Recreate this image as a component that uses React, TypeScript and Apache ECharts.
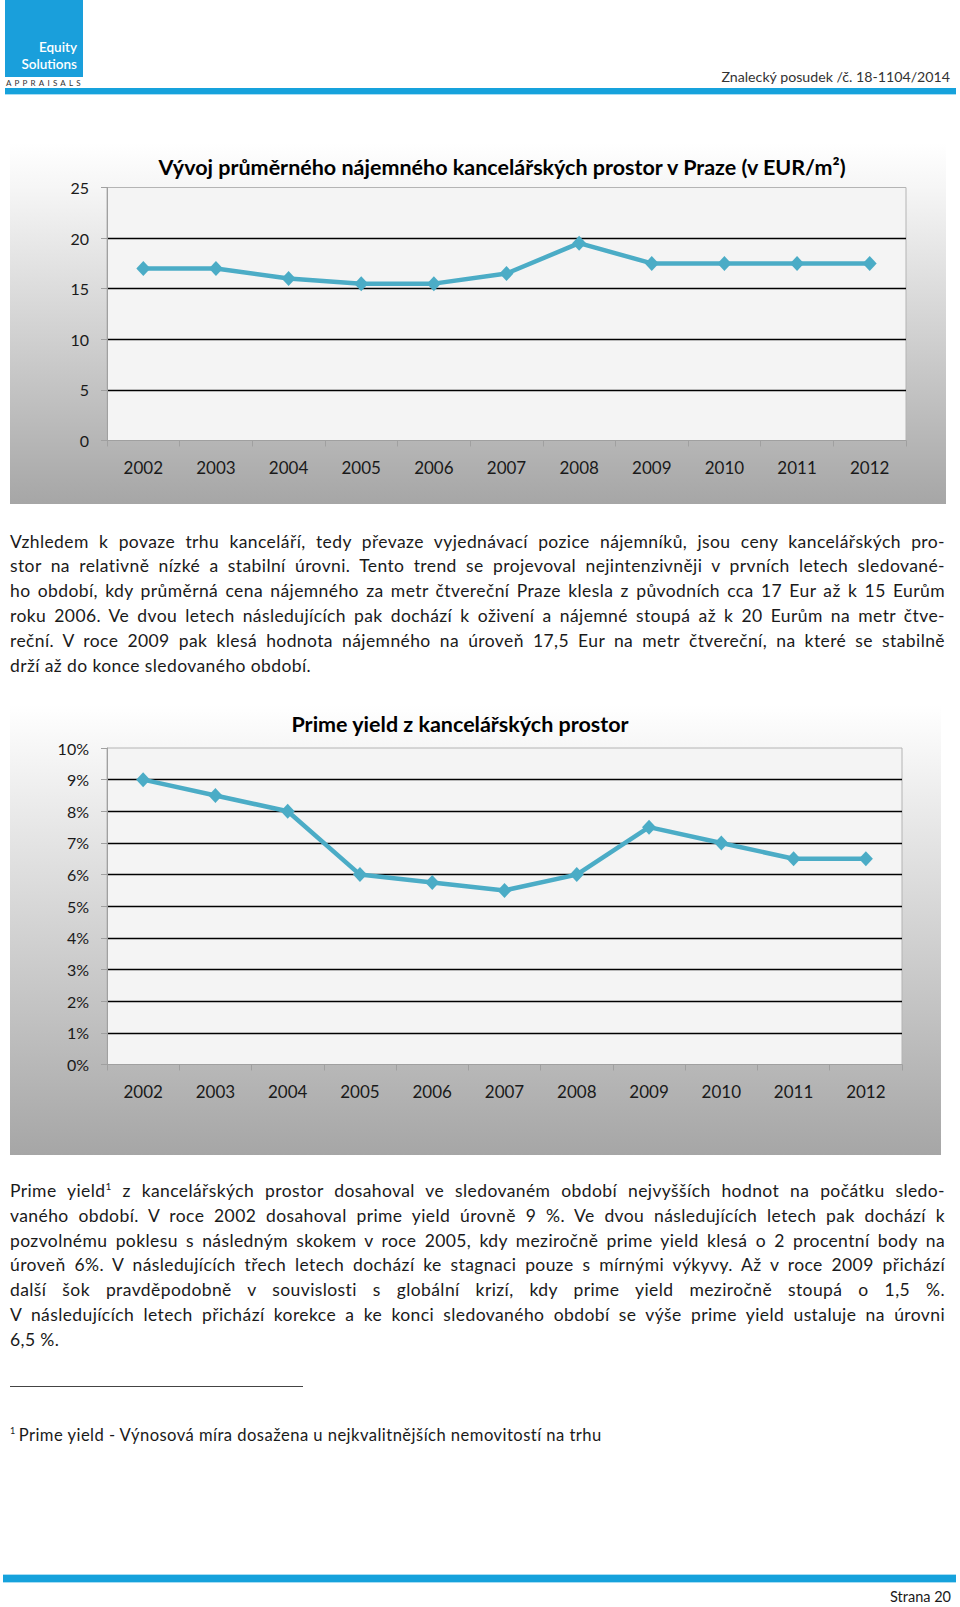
import React, { useEffect, useRef } from "react";
import * as echarts from "echarts";

const years = ["2002", "2003", "2004", "2005", "2006", "2007", "2008", "2009", "2010", "2011", "2012"];
const rentEur = [17, 17, 16, 15.5, 15.5, 16.5, 19.5, 17.5, 17.5, 17.5, 17.5];
const yieldPct = [9, 8.5, 8, 6, 5.75, 5.5, 6, 7.5, 7, 6.5, 6.5];

const rentTitle = "Vývoj průměrného nájemného kancelářských prostor v Praze (v EUR/m²)";
const yieldTitle = "Prime yield z kancelářských prostor";

const para1 = [
  "Vzhledem k povaze trhu kanceláří, tedy převaze vyjednávací pozice nájemníků, jsou ceny kancelářských pro-",
  "stor na relativně nízké a stabilní úrovni. Tento trend se projevoval nejintenzivněji v prvních letech sledované-",
  "ho období, kdy průměrná cena nájemného za metr čtvereční Praze klesla z původních cca 17 Eur až k 15 Eurům",
  "roku 2006. Ve dvou letech následujících pak dochází k oživení a nájemné stoupá až k 20 Eurům na metr čtve-",
  "reční. V roce 2009 pak klesá hodnota nájemného na úroveň 17,5 Eur na metr čtvereční, na které se stabilně",
  "drží až do konce sledovaného období.",
];
const para2 = [
  "Prime yield¹ z kancelářských prostor dosahoval ve sledovaném období nejvyšších hodnot na počátku sledo-",
  "vaného období. V roce 2002 dosahoval prime yield úrovně 9 %. Ve dvou následujících letech pak dochází k",
  "pozvolnému poklesu s následným skokem v roce 2005, kdy meziročně prime yield klesá o 2 procentní body na",
  "úroveň 6%. V následujících třech letech dochází ke stagnaci pouze s mírnými výkyvy. Až v roce 2009 přichází",
  "další šok pravděpodobně v souvislosti s globální krizí, kdy prime yield meziročně stoupá o 1,5 %.",
  "V následujících letech přichází korekce a ke konci sledovaného období se výše prime yield ustaluje na úrovni",
  "6,5 %.",
];

const FONT = "Lato, 'Open Sans', 'Liberation Sans', sans-serif";
const LINE_COLOR = "#4bacc6";
const BLUE = "#16a2dc";

function makeOption(
  title: string,
  titleX: number,
  titleY: number,
  data: number[],
  max: number,
  interval: number,
  fmt: string,
  grid: { left: number; top: number; right: number; bottom: number }
) {
  return {
    animation: false,
    title: {
      text: title,
      left: titleX,
      top: titleY,
      textAlign: "center",
      textStyle: { fontFamily: FONT, fontSize: 21.5, fontWeight: "bold", color: "#000" },
    },
    grid: {
      ...grid,
      show: true,
      backgroundColor: "#f4f4f4",
      borderColor: "#b4b4b4",
      borderWidth: 1,
    },
    xAxis: {
      type: "category",
      data: years,
      boundaryGap: true,
      axisLine: { lineStyle: { color: "#a0a0a0", width: 1 } },
      axisTick: { show: true, length: 6, lineStyle: { color: "#a0a0a0" } },
      axisLabel: { margin: 18, fontFamily: FONT, fontSize: 17, color: "#1a1a1a" },
      splitLine: { show: false },
    },
    yAxis: {
      type: "value",
      min: 0,
      max,
      interval,
      axisLine: { show: true, lineStyle: { color: "#a0a0a0", width: 1 } },
      axisTick: { show: true, length: 6, lineStyle: { color: "#a0a0a0" } },
      axisLabel: { margin: 18, fontFamily: FONT, fontSize: 16, color: "#1a1a1a", formatter: fmt },
      splitLine: {
        show: true,
        showMinLine: false,
        showMaxLine: false,
        lineStyle: { color: "#000", width: 1.4 },
      },
    },
    series: [
      {
        type: "line",
        data,
        symbol: "diamond",
        symbolSize: [14, 15],
        itemStyle: { color: LINE_COLOR },
        lineStyle: { color: LINE_COLOR, width: 4.5 },
      },
    ],
  };
}

function Chart({ option, style }: { option: any; style: React.CSSProperties }) {
  const ref = useRef<HTMLDivElement>(null);
  useEffect(() => {
    if (!ref.current) return;
    const chart = echarts.init(ref.current, undefined, { renderer: "svg" });
    chart.setOption(option);
    return () => chart.dispose();
  }, [option]);
  return <div ref={ref} style={style} />;
}

const rentOption = makeOption(rentTitle, 487, 8, rentEur, 25, 5, "{value}", {
  left: 97,
  top: 44.5,
  right: 40,
  bottom: 63.5,
});
const yieldOption = makeOption(yieldTitle, 445, 3, yieldPct, 10, 1, "{value}%", {
  left: 97,
  top: 43,
  right: 39,
  bottom: 90.5,
});

function TextLines({ lines, firstCenter, lh, justifyLast }: { lines: string[]; firstCenter: number; lh: number; justifyLast: boolean[] }) {
  return (
    <>
      {lines.map((t, i) => {
        const parts = t.split("¹");
        return (
          <div
            key={i}
            style={{
              position: "absolute",
              left: 10,
              width: 935,
              top: firstCenter + i * lh - lh / 2,
              height: lh,
              lineHeight: lh + "px",
              fontFamily: FONT,
              fontSize: 17.5,
              letterSpacing: 0.4,
              color: "#1a1a1a",
              whiteSpace: "nowrap",
              textAlign: justifyLast[i] ? "justify" : "left",
              textAlignLast: justifyLast[i] ? "justify" : "left",
            } as React.CSSProperties}
          >
            {parts.length > 1 ? (
              <>
                {parts[0]}
                <sup style={{ fontSize: 10, lineHeight: 0 }}>1</sup>
                {parts[1]}
              </>
            ) : (
              t
            )}
          </div>
        );
      })}
    </>
  );
}

export default function App() {
  return (
    <div
      style={{
        position: "absolute",
        left: 0,
        top: 0,
        width: 960,
        height: 1607,
        overflow: "hidden",
        background: "#fff",
        fontFamily: FONT,
      }}
    >
      {/* logo */}
      <div style={{ position: "absolute", left: 5, top: 0, width: 78, height: 77, background: "#1a9fdb" }} />
      <div
        style={{
          position: "absolute",
          left: 5,
          width: 72,
          top: 39,
          textAlign: "right",
          color: "#fff",
          fontSize: 13.5,
          fontWeight: 600,
          lineHeight: "16.5px",
        }}
      >
        Equity
        <br />
        Solutions
      </div>
      <div
        style={{
          position: "absolute",
          left: 6,
          top: 78,
          fontSize: 8,
          letterSpacing: 3.2,
          color: "#333",
          lineHeight: "10px",
        }}
      >
        APPRAISALS
      </div>
      <div
        style={{
          position: "absolute",
          right: 10,
          top: 67,
          fontSize: 14.2,
          color: "#333",
          lineHeight: "20px",
        }}
      >
        Znalecký posudek /č. 18-1104/2014
      </div>
      <div style={{ position: "absolute", left: 5, width: 951, top: 88, height: 6, background: BLUE }} />
      <div style={{ position: "absolute", left: 5, width: 951, top: 94, height: 1, background: "#a8ddf3" }} />

      {/* chart 1 */}
      <Chart
        option={rentOption}
        style={{
          position: "absolute",
          left: 10,
          top: 143,
          width: 936,
          height: 361,
          background: "linear-gradient(to bottom, #ffffff 0%, #f6f6f6 12%, #a6a6a6 100%)",
        }}
      />

      <TextLines lines={para1} firstCenter={542} lh={24.8} justifyLast={[true, true, true, true, true, false]} />

      {/* chart 2 */}
      <Chart
        option={yieldOption}
        style={{
          position: "absolute",
          left: 10,
          top: 705,
          width: 931,
          height: 450,
          background: "linear-gradient(to bottom, #ffffff 0%, #f6f6f6 10%, #a6a6a6 100%)",
        }}
      />

      <TextLines
        lines={para2}
        firstCenter={1191.5}
        lh={24.75}
        justifyLast={[true, true, true, true, true, true, false]}
      />

      {/* footnote */}
      <div style={{ position: "absolute", left: 10, width: 293, top: 1386, height: 1, background: "#444" }} />
      <div
        style={{
          position: "absolute",
          left: 10,
          top: 1424,
          fontSize: 16.6,
          letterSpacing: 0.45,
          color: "#1a1a1a",
          lineHeight: "22px",
          whiteSpace: "nowrap",
        }}
      >
        <sup style={{ fontSize: 9, lineHeight: 0, marginRight: 3 }}>1</sup>
        Prime yield - Výnosová míra dosažena u nejkvalitnějších nemovitostí na trhu
      </div>

      {/* footer */}
      <div style={{ position: "absolute", left: 3, width: 953, top: 1574, height: 1, background: "#a8ddf3" }} />
      <div style={{ position: "absolute", left: 3, width: 953, top: 1575, height: 7, background: BLUE }} />
      <div style={{ position: "absolute", left: 3, width: 953, top: 1582, height: 1, background: "#a8ddf3" }} />
      <div
        style={{
          position: "absolute",
          right: 9,
          top: 1587,
          fontSize: 14.5,
          color: "#1a1a1a",
          lineHeight: "20px",
        }}
      >
        Strana 20
      </div>
    </div>
  );
}
